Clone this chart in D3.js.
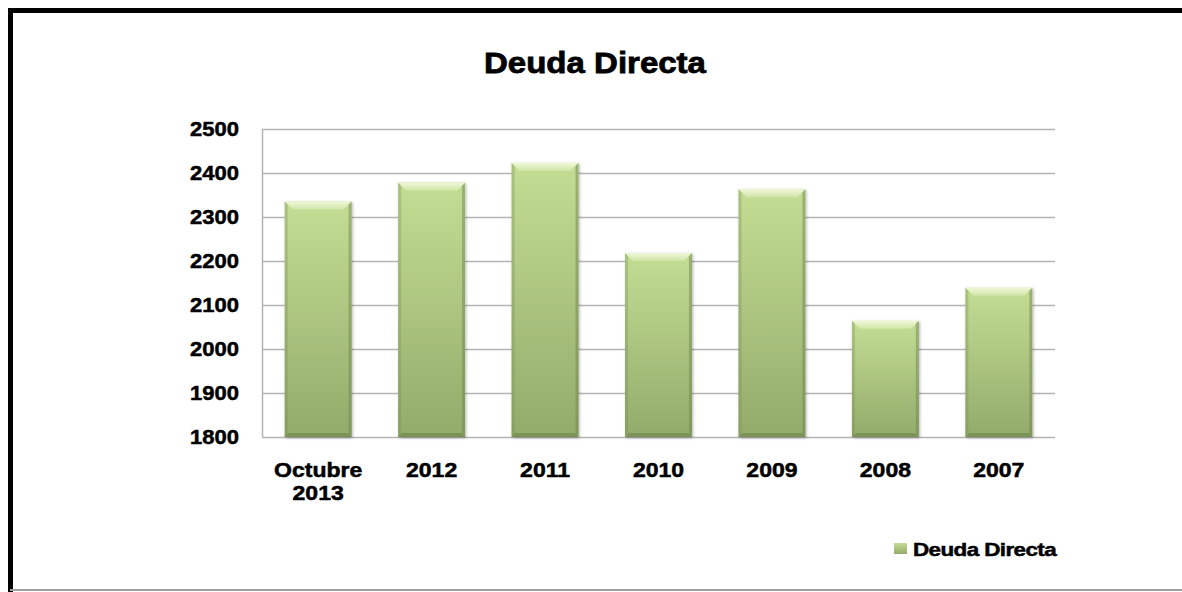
<!DOCTYPE html>
<html>
<head>
<meta charset="utf-8">
<script src="https://cdn.jsdelivr.net/npm/d3@7"></script>
<style>
  body { margin: 0; background: #fff; }
  text { font-family: "Liberation Sans", Arial, sans-serif; font-weight: bold; fill: #000;
         stroke: #000; stroke-width: 0.5px; }
</style>
</head>
<body>
<div id="chart"></div>
<script>
// data
var categories = ["Octubre\n2013", "2012", "2011", "2010", "2009", "2008", "2007"];
var values = [2335, 2378, 2423, 2218, 2363, 2064, 2139];
var yTicks = [1800, 1900, 2000, 2100, 2200, 2300, 2400, 2500];
var seriesName = "Deuda Directa";
var title = "Deuda Directa";

function init() {
    var w = 1182, h = 592;
    var margin = { top: 129, right: 127, bottom: 155, left: 262 };
    var width = w - margin.left - margin.right;
    var height = h - margin.top - margin.bottom;

    var svg = d3.select("#chart").append("svg")
        .attr("width", w)
        .attr("height", h);

    var defs = svg.append("defs");

    // body gradient of the bars
    var grad = defs.append("linearGradient")
        .attr("id", "barFill")
        .attr("x1", 0).attr("y1", 0).attr("x2", 0).attr("y2", 1);
    grad.append("stop").attr("offset", "0%").attr("stop-color", "#c4dd94");
    grad.append("stop").attr("offset", "100%").attr("stop-color", "#93ab6a");

    var bevel = defs.append("linearGradient")
        .attr("id", "bevelTop")
        .attr("x1", 0).attr("y1", 0).attr("x2", 0).attr("y2", 1);
    bevel.append("stop").attr("offset", "0%").attr("stop-color", "#f0f8d8");
    bevel.append("stop").attr("offset", "100%").attr("stop-color", "#cfe4a6");

    var shadow = defs.append("filter").attr("id", "shadow")
        .attr("x", "-20%").attr("y", "-10%").attr("width", "140%").attr("height", "120%");
    shadow.append("feDropShadow")
        .attr("dx", 1).attr("dy", 1).attr("stdDeviation", 1.5)
        .attr("flood-color", "#000").attr("flood-opacity", 0.3);

    // frame: thick black left and top, thin grey bottom
    svg.append("path")
        .attr("d", "M10.5,592 V10.5 H1190")
        .attr("fill", "none")
        .attr("stroke", "#000")
        .attr("stroke-width", 5);
    svg.append("line")
        .attr("x1", 10).attr("x2", 1182)
        .attr("y1", 590).attr("y2", 590)
        .attr("stroke", "#a0a0a0")
        .attr("stroke-width", 2);

    // stretch text a bit horizontally like the original
    function widen(sel, k) {
        sel.each(function () {
            var len = this.getComputedTextLength();
            d3.select(this)
                .attr("textLength", len * k)
                .attr("lengthAdjust", "spacingAndGlyphs");
        });
    }

    svg.append("text")
        .attr("x", 595)
        .attr("y", 73)
        .attr("text-anchor", "middle")
        .style("font-size", "30px")
        .style("stroke-width", "0.8px")
        .text(title)
        .call(widen, 1.1);

    var g = svg.append("g")
        .attr("transform", "translate(" + margin.left + "," + margin.top + ")");

    var x = d3.scaleBand()
        .domain(categories)
        .range([0, width])
        .paddingInner(0.41)
        .paddingOuter(0.2);

    var y = d3.scaleLinear()
        .domain([1800, 2500])
        .range([height, 0]);

    // gridlines
    g.append("g")
        .selectAll("line")
        .data(yTicks)
        .enter()
        .append("line")
        .attr("x1", 0)
        .attr("x2", width)
        .attr("y1", function (d) { return Math.round(y(d)) + 0.5; })
        .attr("y2", function (d) { return Math.round(y(d)) + 0.5; })
        .attr("stroke", "#b4b4b4")
        .attr("stroke-width", 1.5);

    // y axis line
    g.append("line")
        .attr("x1", 0.5).attr("x2", 0.5)
        .attr("y1", 0).attr("y2", height)
        .attr("stroke", "#b4b4b4")
        .attr("stroke-width", 1.5);

    // y tick labels
    g.append("g")
        .selectAll("text")
        .data(yTicks)
        .enter()
        .append("text")
        .attr("x", -23)
        .attr("y", function (d) { return y(d); })
        .attr("dy", "0.36em")
        .attr("text-anchor", "end")
        .style("font-size", "20px")
        .text(function (d) { return d; })
        .call(widen, 1.1);

    // bars
    var bars = g.append("g")
        .selectAll("g")
        .data(values)
        .enter()
        .append("g")
        .attr("transform", function (d, i) {
            return "translate(" + x(categories[i]) + "," + y(d) + ")";
        });

    var bw = x.bandwidth();
    var bv = 8;

    bars.append("rect")
        .attr("width", bw)
        .attr("height", function (d) { return height - y(d); })
        .attr("fill", "url(#barFill)")
        .attr("filter", "url(#shadow)");

    // bevel: light top, dark sides and bottom
    bars.append("path")
        .attr("d", "M0,0 H" + bw + " L" + (bw - bv) + "," + bv + " H" + bv + " Z")
        .attr("fill", "url(#bevelTop)");
    bars.append("path")
        .attr("d", function (d) {
            var bh = height - y(d);
            return "M" + bw + ",0 V" + bh + " L" + (bw - 3) + "," + (bh - 3) + " V3 Z";
        })
        .attr("fill", "#6f8550")
        .attr("opacity", 0.5);
    bars.append("path")
        .attr("d", function (d) {
            var bh = height - y(d);
            return "M0,0 V" + bh + " L3," + (bh - 3) + " V3 Z";
        })
        .attr("fill", "#6f8550")
        .attr("opacity", 0.3);
    bars.append("path")
        .attr("d", function (d) {
            var bh = height - y(d);
            return "M0," + bh + " H" + bw + " L" + (bw - 4) + "," + (bh - 4) + " H4 Z";
        })
        .attr("fill", "#5f7442")
        .attr("opacity", 0.45);

    // category labels
    var cat = g.append("g")
        .selectAll("text")
        .data(categories)
        .enter()
        .append("text")
        .attr("x", function (d) { return x(d) + bw / 2; })
        .attr("y", height + 40)
        .attr("text-anchor", "middle")
        .style("font-size", "20px");

    cat.selectAll("tspan")
        .data(function (d) { return d.split("\n"); })
        .enter()
        .append("tspan")
        .attr("x", function () { return d3.select(this.parentNode).attr("x"); })
        .attr("dy", function (d, i) { return i === 0 ? 0 : 23; })
        .text(function (d) { return d; });

    cat.selectAll("tspan").call(widen, 1.15);

    // legend
    var legend = svg.append("g")
        .attr("transform", "translate(894,543)");
    legend.append("rect")
        .attr("width", 13)
        .attr("height", 11)
        .attr("fill", "url(#barFill)");
    legend.append("text")
        .attr("x", 19)
        .attr("y", 13)
        .style("font-size", "19px")
        .style("letter-spacing", "-0.5px")
        .text(seriesName)
        .call(widen, 1.18);
}
window.onload = init;
</script>
</body>
</html>
